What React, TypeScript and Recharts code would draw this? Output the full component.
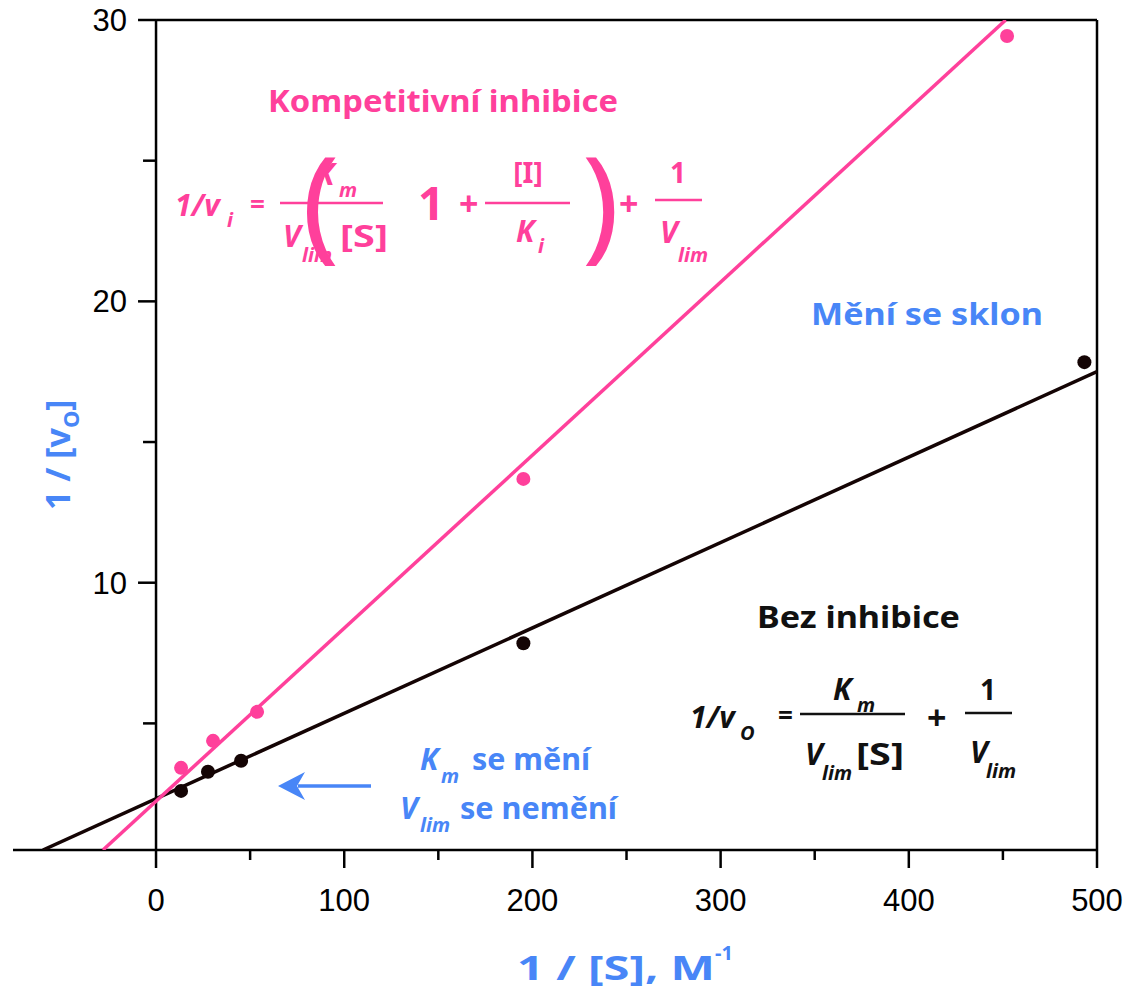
import React from "react";
import {
  ComposedChart,
  Scatter,
  XAxis,
  YAxis,
  ReferenceLine,
  ReferenceDot,
} from "recharts";

// 1/[S] (M^-1) and 1/v0
const controlX = [13.3, 27.6, 45.2, 195.2, 493.3];
const controlY = [2.6, 3.28, 3.67, 7.85, 17.84];
const inhibX = [13.3, 30.3, 53.7, 195.2, 452.2];
const inhibY = [3.42, 4.38, 5.41, 13.69, 29.43];

// straight lines drawn through the two sets (end points)
const controlFitX = [-60.1, 500];
const controlFitY = [0.5, 17.5];
const inhibFitX = [-28.2, 451.5];
const inhibFitY = [0.5, 30];

const xTicks = [0, 50, 100, 150, 200, 250, 300, 350, 400, 450, 500];
const yTicks = [5, 10, 15, 20, 25, 30];
const xDomain = [-76, 500];
const yDomain = [0.5, 30];

const PINK = "#ff409b";
const BLUE = "#4886f7";
const DARK = "#140404";
const AXIS = "#000";
const FONT = "'Comic Sans MS', 'Noto Sans', 'DejaVu Sans', sans-serif";
const TICK_FONT = "'Century Gothic', 'Liberation Sans', Arial, sans-serif";

const zip = (xs: number[], ys: number[]) => xs.map((x, i) => ({ x, y: ys[i] }));

const controlPts = zip(controlX, controlY);
const inhibPts = zip(inhibX, inhibY);
const controlFit = zip(controlFitX, controlFitY);
const inhibFit = zip(inhibFitX, inhibFitY);

const XTick = (props: any) => {
  const { x, y, payload } = props;
  const major = payload.value % 100 === 0;
  return (
    <g>
      <line x1={x} y1={y} x2={x} y2={y + (major ? 18 : 10)} stroke={AXIS} strokeWidth={2.5} />
      {major && (
        <text x={x} y={y + 61} textAnchor="middle" fontFamily={TICK_FONT} fontSize={31} fill="#000">
          {payload.value}
        </text>
      )}
    </g>
  );
};

const YTick = (props: any) => {
  const { cx, cy, value } = props;
  const major = value % 10 === 0;
  return (
    <g>
      <line x1={cx - (major ? 18 : 13)} y1={cy} x2={cx} y2={cy} stroke={AXIS} strokeWidth={2.5} />
      {major && (
        <text x={cx - 29} y={cy + 11} textAnchor="end" fontFamily={TICK_FONT} fontSize={31} fill="#000">
          {value}
        </text>
      )}
    </g>
  );
};

const Dot = (color: string) => (p: any) => <circle cx={p.cx} cy={p.cy} r={7} fill={color} />;
const NoDot = () => <g />;

const T = ({ x, y, size = 30, color, italic, anchor, len, weight, children }: any) => (
  <text
    x={x}
    y={y}
    fontFamily={FONT}
    fontWeight={weight || "bold"}
    fontStyle={italic ? "italic" : "normal"}
    fontSize={size}
    fill={color}
    textAnchor={anchor || "start"}
    textLength={len}
    lengthAdjust={len ? "spacingAndGlyphs" : undefined}
  >
    {children}
  </text>
);

const Bar = ({ x1, x2, y, color }: any) => (
  <line x1={x1} x2={x2} y1={y} y2={y} stroke={color} strokeWidth={2.5} />
);

function Annotations() {
  return (
    <svg
      width={1138}
      height={989}
      style={{ position: "absolute", left: 0, top: 0, pointerEvents: "none" }}
    >
      {/* competitive inhibition */}
      <T x={268} y={112} size={31} color={PINK} len={350}>Kompetitivní inhibice</T>
      <T x={175} y={216} color={PINK} italic>1/v</T>
      <T x={227} y={227} size={20} color={PINK} italic>i</T>
      <T x={250} y={214} size={26} color={PINK}>=</T>
      <Bar x1={280} x2={383} y={203} color={PINK} />
      <T x={316} y={185} color={PINK} italic>K</T>
      <T x={339} y={197} size={20} color={PINK} italic>m</T>
      <T x={283} y={247} color={PINK} italic>V</T>
      <T x={302} y={262} size={20} color={PINK} italic>lim</T>
      <T x={340} y={247} color={PINK} len={48}>[S]</T>
      <T x={302} y={246} size={124} color={PINK} weight="normal">(</T>
      <T x={418} y={220} size={46} color={PINK}>1</T>
      <T x={459} y={216} size={34} color={PINK}>+</T>
      <Bar x1={485} x2={570} y={203} color={PINK} />
      <T x={528} y={183} size={28} color={PINK} anchor="middle">[I]</T>
      <T x={516} y={242} color={PINK} italic>K</T>
      <T x={538} y={253} size={20} color={PINK} italic>i</T>
      <T x={582} y={246} size={124} color={PINK} weight="normal">)</T>
      <T x={619} y={216} size={34} color={PINK}>+</T>
      <Bar x1={655} x2={702} y={200} color={PINK} />
      <T x={678} y={183} size={28} color={PINK} anchor="middle">1</T>
      <T x={660} y={243} color={PINK} italic>V</T>
      <T x={678} y={262} size={20} color={PINK} italic>lim</T>

      {/* slope note */}
      <T x={811} y={325} size={31} color={BLUE} len={232}>Mění se sklon</T>

      {/* no inhibition */}
      <T x={757} y={628} size={31} color="#111" len={203}>Bez inhibice</T>
      <T x={690} y={728} color="#111" italic>1/v</T>
      <T x={740} y={740} size={20} color="#111" italic>O</T>
      <T x={778} y={725} size={26} color="#111">=</T>
      <Bar x1={800} x2={905} y={714} color="#111" />
      <T x={833} y={700} color="#111" italic>K</T>
      <T x={857} y={712} size={20} color="#111" italic>m</T>
      <T x={805} y={765} color="#111" italic>V</T>
      <T x={822} y={780} size={20} color="#111" italic>lim</T>
      <T x={856} y={765} color="#111" len={48}>[S]</T>
      <T x={927} y={730} size={34} color="#111">+</T>
      <Bar x1={965} x2={1012} y={713} color="#111" />
      <T x={988} y={700} size={28} color="#111" anchor="middle">1</T>
      <T x={970} y={763} color="#111" italic>V</T>
      <T x={986} y={778} size={20} color="#111" italic>lim</T>

      {/* Km / Vlim note and arrow */}
      <T x={420} y={770} color={BLUE} italic>K</T>
      <T x={441} y={783} size={20} color={BLUE} italic>m</T>
      <T x={472} y={770} size={30} color={BLUE} len={118}>se mění</T>
      <T x={400} y={819} color={BLUE} italic>V</T>
      <T x={420} y={832} size={20} color={BLUE} italic>lim</T>
      <T x={460} y={819} size={30} color={BLUE} len={157}>se nemění</T>
      <line x1={298} y1={786} x2={371} y2={786} stroke={BLUE} strokeWidth={3.5} />
      <polygon points="278,786 305,772 297,786 305,800" fill={BLUE} />

      {/* axis titles */}
      <text x={517} y={980} fontFamily={FONT} fontWeight="bold" fontSize={34} fill={BLUE}>
        <tspan textLength={198} lengthAdjust="spacingAndGlyphs">1 / [S], M</tspan>
        <tspan dy={-20} fontSize={20}>-1</tspan>
      </text>
      <text
        transform="translate(70,510) rotate(-90)"
        fontFamily={FONT}
        fontWeight="bold"
        fontSize={34}
        fill={BLUE}
      >
        <tspan>1 / [v</tspan>
        <tspan dy={9} fontSize={22}>O</tspan>
        <tspan dy={-9}>]</tspan>
      </text>
    </svg>
  );
}

export default function App() {
  return (
    <div style={{ position: "absolute", left: 0, top: 0, width: 1138, height: 989, background: "#fff" }}>
      <ComposedChart
        width={1138}
        height={989}
        margin={{ top: 20, right: 41, bottom: 99, left: 13 }}
      >
        <XAxis
          type="number"
          dataKey="x"
          domain={xDomain}
          ticks={xTicks}
          interval={0}
          height={40}
          allowDataOverflow
          axisLine={{ stroke: AXIS, strokeWidth: 2.5 }}
          tickLine={false}
          tickSize={0}
          tickMargin={0}
          tick={<XTick />}
        />
        <YAxis type="number" dataKey="y" domain={yDomain} allowDataOverflow hide width={0} />

        <ReferenceLine x={0} stroke={AXIS} strokeWidth={2.5} ifOverflow="visible" />
        <ReferenceLine x={500} stroke={AXIS} strokeWidth={2.5} ifOverflow="visible" />
        <ReferenceLine
          segment={[{ x: 0, y: 30 }, { x: 500, y: 30 }]}
          stroke={AXIS}
          strokeWidth={2.5}
          ifOverflow="visible"
        />
        {yTicks.map((v) => (
          <ReferenceDot
            key={v}
            x={0}
            y={v}
            r={0}
            ifOverflow="visible"
            shape={(p: any) => <YTick {...p} value={v} />}
          />
        ))}

        <Scatter data={controlFit} line={{ stroke: DARK, strokeWidth: 3.5 }} shape={NoDot} isAnimationActive={false} />
        <Scatter data={inhibFit} line={{ stroke: PINK, strokeWidth: 3.5 }} shape={NoDot} isAnimationActive={false} />
        <Scatter data={controlPts} shape={Dot(DARK)} isAnimationActive={false} />
        <Scatter data={inhibPts} shape={Dot(PINK)} isAnimationActive={false} />
      </ComposedChart>
      <Annotations />
    </div>
  );
}
